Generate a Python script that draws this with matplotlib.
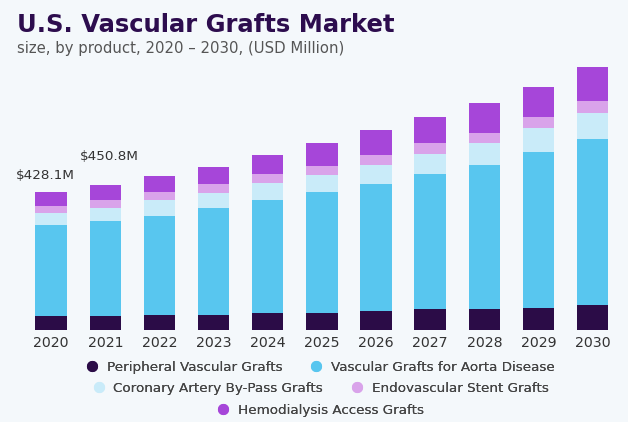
import matplotlib
matplotlib.use("Agg")
import matplotlib.pyplot as plt
from matplotlib.lines import Line2D
import numpy as np

years = ["2020", "2021", "2022", "2023", "2024", "2025", "2026", "2027", "2028", "2029", "2030"]
peripheral = [43, 43, 46, 46, 53, 53, 59, 65, 65, 68, 78]
aorta = [283, 295, 307, 332, 350, 375, 394, 419, 446, 484, 515]
coronary = [37, 40, 50, 46, 53, 53, 59, 62, 68, 74, 78]
endovascular = [22, 25, 25, 28, 28, 28, 31, 34, 31, 34, 40]
hemodialysis = [43.1, 47.8, 50, 53, 59, 71, 78, 81, 93, 93, 105]
segments = ["Peripheral Vascular Grafts", "Vascular Grafts for Aorta Disease",
            "Coronary Artery By-Pass Grafts", "Endovascular Stent Grafts",
            "Hemodialysis Access Grafts"]
colors = ["#2b0c47", "#58c6ef", "#c9ebf9", "#d9a3ea", "#a646d9"]
callouts = {0: "$428.1M", 1: "$450.8M"}

bg = "#f4f8fb"
body_font = ["DejaVu Sans"]

fig = plt.figure(figsize=(6.28, 4.22), dpi=100, facecolor=bg)
ax = fig.add_axes([0.032, 0.218, 0.959, 0.64])
ax.set_facecolor(bg)

x = np.arange(len(years))
bottom = np.zeros(len(years))
for name, vals, c in zip(segments, [peripheral, aorta, coronary, endovascular, hemodialysis], colors):
    ax.bar(x, vals, width=0.58, bottom=bottom, color=c, label=name)
    bottom += np.array(vals)

ax.set_xlim(-0.573, 10.55)
ax.set_ylim(0, 837)
ax.set_xticks(x)
ax.set_xticklabels(years, fontsize=10.2, color="#333333", family=body_font)
ax.tick_params(axis="x", length=0, pad=4)
ax.set_yticks([])
for s in ax.spines.values():
    s.set_visible(False)

offsets = {0: (-4, 12), 1: (3, 20)}
for i, txt in callouts.items():
    ax.annotate(txt, (x[i], bottom[i]), xytext=offsets[i], textcoords="offset points",
                ha="center", va="center", fontsize=9.7, color="#333333", family=body_font)

fig.text(0.027, 0.94, "U.S. Vascular Grafts Market", fontsize=17.5, fontweight="bold",
         color="#2d0d4e", family="DejaVu Sans", va="center")
fig.text(0.027, 0.884, "size, by product, 2020 \u2013 2030, (USD Million)", fontsize=10.7,
         color="#555555", family=body_font, va="center")

handles = [Line2D([], [], marker="o", linestyle="none", markersize=7, color=c) for c in colors]
rows = [([0, 1], 0.130), ([2, 3], 0.080), ([4], 0.028)]
for idx, yy in rows:
    leg = fig.legend([handles[i] for i in idx], [segments[i] for i in idx], ncol=len(idx),
                     loc="center", bbox_to_anchor=(0.51, yy), frameon=False,
                     prop={"family": body_font, "size": 9.7}, labelcolor="#444444",
                     handletextpad=0.6, columnspacing=2.0, handlelength=1.0)
    fig.add_artist(leg)

fig.savefig("out.png", dpi=100, facecolor=bg)
